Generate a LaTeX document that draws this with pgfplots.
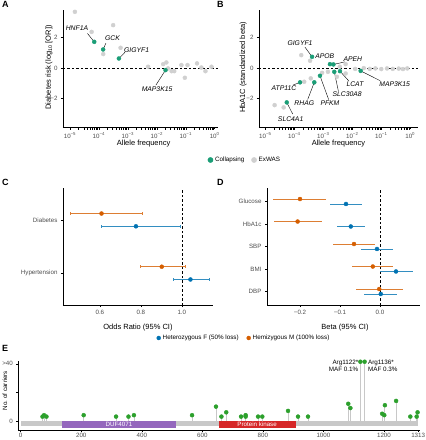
\documentclass[border=0pt]{standalone}
\usepackage{pgfplots}
\pgfplotsset{compat=1.18}
\usepackage{pgfplotstable}
\usepackage{fontspec}
\setmainfont{Liberation Sans}
\definecolor{colgreen}{HTML}{1B9E77}
\definecolor{colgray}{HTML}{D0D0D0}
\definecolor{colblue}{HTML}{0072B2}
\definecolor{colorange}{HTML}{D55E00}
\definecolor{ticktext}{HTML}{4D4D4D}
\definecolor{lolli}{HTML}{2CA02C}
\definecolor{stemc}{HTML}{C8C8C8}
\definecolor{dufc}{HTML}{9467BD}
\definecolor{pkc}{HTML}{D62728}
\newcommand{\fticks}{\fontsize{6.2}{7}\selectfont}
\newcommand{\ftitle}{\fontsize{7.5}{8}\selectfont}
\newcommand{\fgene}{\fontsize{6.8}{7}\selectfont\itshape}
\newcommand{\fleg}{\fontsize{6.3}{7}\selectfont}
\newcommand{\fpanel}{\fontsize{9}{9}\selectfont\bfseries}
\pgfplotsset{
  panel/.style={
    scale only axis, anchor=north west,
    axis lines*=left,
    axis line style={line width=0.6pt, black},
    tick align=outside,
    major tick length=2pt,
    every tick/.style={line width=0.5pt, black},
    tick label style={font=\fticks, text=ticktext},
    label style={font=\ftitle},
    clip=false,
  },
  sized/.style={only marks, scatter, mark=*, forget plot,
    visualization depends on={\thisrow{r} \as \ptr},
    scatter/@pre marker code/.append style={/tikz/mark size=\ptr pt},
    scatter/use mapped color={draw=#1, fill=#1}},
}
% ---------- data ----------
\pgfplotstableread{
f y r
1.48e-5 3.68 4.5
5.6e-5 2.37 3.0
3.1e-4 2.81 3.5
1.41e-4 0.92 2.2
5.6e-4 1.33 2.3
5.0e-3 0.09 1.5
0.0166 0.26 1.6
0.0214 0.37 1.8
0.0245 -0.02 1.6
0.0324 -0.20 1.5
0.040 -0.20 1.5
0.0708 0.20 1.6
0.093 -0.63 1.8
0.115 0.20 1.6
0.245 0.31 1.6
0.347 0.04 1.5
0.479 -0.20 1.5
0.776 0.09 1.5
}\Agray
\pgfplotstableread{
f y r
6.9e-5 1.72 2.9
1.4e-4 1.22 2.5
4.9e-4 0.63 2.0
0.020 -0.13 1.4
}\Agreen
\pgfplotstableread{
f y r
2.1e-5 -2.42 3.5
4.3e-5 -2.57 3.5
1.74e-4 0.85 2.5
3.5e-4 0.48 2.0
3.7e-4 -0.67 2.0
2.2e-4 -0.89 2.0
9.1e-4 -0.31 2.0
1.45e-3 -0.24 1.8
2.95e-3 -0.57 2.0
5.9e-3 -0.35 1.8
5.9e-3 0.26 1.6
3.7e-3 0.09 1.5
0.0126 -0.05 1.5
0.025 0.00 1.5
0.040 -0.05 1.5
0.063 -0.02 1.5
0.100 -0.06 1.5
0.158 -0.02 1.5
0.250 -0.05 1.5
0.400 -0.03 1.5
0.560 -0.06 1.5
0.790 -0.02 1.5
}\Bgray
\pgfplotstableread{
f y r
4.1e-4 0.74 2.2
1.7e-3 0.26 1.9
2.24e-3 0.24 1.6
2.4e-3 -0.24 1.7
3.77e-3 -0.20 1.5
0.0195 -0.18 1.4
7.7e-4 -0.50 1.9
4.9e-4 -0.93 2.2
1.58e-4 -0.93 2.2
5.5e-5 -2.24 3.4
}\Bgreen
\pgfplotstableread{
y x lo hi
2.12 0.608 0.456 0.809
1.12 0.902 0.796 1.016
}\Cor
\pgfplotstableread{
y x lo hi
1.88 0.776 0.608 0.992
0.88 1.042 0.959 1.134
}\Cbl
\pgfplotstableread{
y x lo hi
5.11 -0.200 -0.267 -0.135
4.11 -0.206 -0.265 -0.146
3.11 -0.065 -0.118 -0.0125
2.11 -0.018 -0.071 0.033
1.11 -0.002 -0.061 0.058
}\Dor
\pgfplotstableread{
y x lo hi
4.89 -0.085 -0.125 -0.046
3.89 -0.073 -0.108 -0.0375
2.89 -0.0075 -0.0475 0.033
1.89 0.040 0.000 0.082
0.89 0.002 -0.039 0.042
}\Dbl
\pgfplotstableread{
x y
72 3
77 4
85 3
208 4
315 3
356 3
374 4
566 4
645 10
663 3
679 6
728 3
743 4
743 3
784 3
798 3
883 7
916 3
949 3
1082 12
1089 9
1122 41.5
1136 41.5
1194 5
1201 4
1203 11
1240 14
1287 3
1308 3
1311 6
}\Evar
\begin{document}
\begin{tikzpicture}
\useasboundingbox (0pt,0pt) rectangle (426pt,-440pt);
\node[anchor=north west, inner sep=0pt, font=\fpanel] at (2pt,-1.5pt) {A};
\node[anchor=north west, inner sep=0pt, font=\fpanel] at (217pt,-1.5pt) {B};
\node[anchor=north west, inner sep=0pt, font=\fpanel] at (2pt,-179.5pt) {C};
\node[anchor=north west, inner sep=0pt, font=\fpanel] at (217pt,-179.5pt) {D};
\node[anchor=north west, inner sep=0pt, font=\fpanel] at (2pt,-345.5pt) {E};
% ---------- A ----------
\begin{axis}[panel, at={(63pt,-10pt)}, width=155pt, height=117pt,
  xmode=log, xmin=5.74e-6, xmax=1.30, ymin=-3.85, ymax=3.8,
  xtick={1e-5,1e-4,1e-3,1e-2,1e-1,1},
  xticklabels={10\textsuperscript{−5},10\textsuperscript{−4},10\textsuperscript{−3},10\textsuperscript{−2},10\textsuperscript{−1},10\textsuperscript{0}},
  ytick={-2,0,2}, yticklabels={−2,0,2},
  xlabel={Allele frequency}, ylabel={Diabetes risk (log\textsubscript{10} [OR])},
  xlabel style={at={(axis description cs:0.52,-0.145)}, anchor=center},
  ylabel style={at={(axis description cs:-0.09,0.51)}, anchor=center}]
\draw[dash pattern=on 2.5pt off 2pt, line width=0.5pt] (axis cs:5.74e-6,0) -- (axis cs:1.30,0);
\addplot[sized=colgray] table[x=f,y=y] {\Agray};
\draw[line width=0.4pt] (axis cs:4.0e-5,2.27) -- (axis cs:6.9e-5,1.72);
\draw[line width=0.4pt] (axis cs:1.74e-4,1.63) -- (axis cs:1.4e-4,1.22);
\draw[line width=0.4pt] (axis cs:7.9e-4,1.03) -- (axis cs:4.9e-4,0.63);
\draw[line width=0.4pt] (axis cs:9.3e-3,-1.11) -- (axis cs:0.020,-0.13);
\addplot[sized=colgreen] table[x=f,y=y] {\Agreen};
\node[font=\fgene] at (axis cs:1.74e-5,2.61) {HNF1A};
\node[font=\fgene] at (axis cs:2.95e-4,1.94) {GCK};
\node[font=\fgene] at (axis cs:2.0e-3,1.18) {GIGYF1};
\node[font=\fgene] at (axis cs:1.02e-2,-1.39) {MAP3K15};
\end{axis}
% ---------- B ----------
\begin{axis}[panel, at={(259pt,-10pt)}, width=159pt, height=117pt,
  xmode=log, xmin=6.07e-6, xmax=1.85, ymin=-3.85, ymax=3.8,
  xtick={1e-5,1e-4,1e-3,1e-2,1e-1,1},
  xticklabels={10\textsuperscript{−5},10\textsuperscript{−4},10\textsuperscript{−3},10\textsuperscript{−2},10\textsuperscript{−1},10\textsuperscript{0}},
  ytick={-2,0,2}, yticklabels={−2,0,2},
  xlabel={Allele frequency}, ylabel={HbA1C (standardized beta)},
  xlabel style={at={(axis description cs:0.50,-0.145)}, anchor=center},
  ylabel style={at={(axis description cs:-0.10,0.51)}, anchor=center},
  legend columns=2, legend cell align=left,
  legend style={at={(axis description cs:-0.088,-0.282)}, anchor=center, draw=none, fill=none, font=\fleg, inner sep=0pt,
    /tikz/every even column/.append style={column sep=5pt}}]
\addlegendimage{only marks, mark=*, mark size=2.6pt, colgreen}
\addlegendentry{Collapsing}
\addlegendimage{only marks, mark=*, mark size=2.6pt, colgray}
\addlegendentry{ExWAS}
\draw[dash pattern=on 2.5pt off 2pt, line width=0.5pt] (axis cs:6.07e-6,0) -- (axis cs:1.85,0);
\addplot[sized=colgray] table[x=f,y=y] {\Bgray};
\draw[line width=0.4pt] (axis cs:2.34e-4,1.37) -- (axis cs:4.1e-4,0.74);
\draw[line width=0.4pt] (axis cs:5.6e-3,0.41) -- (axis cs:2.24e-3,0.24);
\draw[line width=0.4pt] (axis cs:3.3e-3,-1.48) -- (axis cs:2.4e-3,-0.24);
\draw[line width=0.4pt] (axis cs:7.7e-3,-0.85) -- (axis cs:3.77e-3,-0.20);
\draw[line width=0.4pt] (axis cs:0.091,-0.82) -- (axis cs:0.0195,-0.18);
\draw[line width=0.4pt] (axis cs:1.53e-3,-2.05) -- (axis cs:7.7e-4,-0.50);
\draw[line width=0.4pt] (axis cs:2.9e-4,-2.05) -- (axis cs:4.9e-4,-0.93);
\draw[line width=0.4pt] (axis cs:9.0e-5,-1.11) -- (axis cs:1.58e-4,-0.93);
\draw[line width=0.4pt] (axis cs:8.8e-5,-3.0) -- (axis cs:5.5e-5,-2.24);
\addplot[sized=colgreen] table[x=f,y=y] {\Bgreen};
\node[font=\fgene] at (axis cs:1.58e-4,1.61) {GIGYF1};
\node[font=\fgene] at (axis cs:1.12e-3,0.78) {APOB};
\node[font=\fgene] at (axis cs:1.05e-2,0.57) {APEH};
\node[font=\fgene] at (axis cs:6.7e-3,-1.72) {SLC30A8};
\node[font=\fgene] at (axis cs:0.0124,-1.05) {LCAT};
\node[font=\fgene] at (axis cs:0.29,-1.07) {MAP3K15};
\node[font=\fgene] at (axis cs:1.70e-3,-2.31) {PFKM};
\node[font=\fgene] at (axis cs:2.21e-4,-2.31) {RHAG};
\node[font=\fgene] at (axis cs:4.4e-5,-1.29) {ATP11C};
\node[font=\fgene] at (axis cs:7.5e-5,-3.35) {SLC4A1};
\end{axis}
% ---------- C ----------
\begin{axis}[panel, at={(63pt,-188pt)}, width=150pt, height=117pt,
  xmin=0.42, xmax=1.152, ymin=0.4, ymax=2.6,
  xtick={0.6,0.8,1.0}, xticklabels={0.6,0.8,1.0},
  ytick={1,2}, yticklabels={Hypertension,Diabetes},
  xlabel={Odds Ratio (95\% CI)},
  xlabel style={at={(axis description cs:0.5,-0.197)}, anchor=center}]
\draw[dash pattern=on 2.5pt off 2pt, line width=0.5pt] (axis cs:1,0.4) -- (axis cs:1,2.6);
\addplot[only marks, mark=*, mark size=2pt, colorange,
  error bars/.cd, x dir=both, x explicit, error mark=|, error mark options={mark size=1.4pt, line width=0.6pt, colorange!80!white},
  error bar style={line width=0.8pt, colorange!80!white}]
  table[x=x, y=y, x error plus expr=\thisrow{hi}-\thisrow{x}, x error minus expr=\thisrow{x}-\thisrow{lo}] {\Cor};
\addplot[only marks, mark=*, mark size=2pt, colblue,
  error bars/.cd, x dir=both, x explicit, error mark=|, error mark options={mark size=1.4pt, line width=0.6pt, colblue!80!white},
  error bar style={line width=0.8pt, colblue!80!white}]
  table[x=x, y=y, x error plus expr=\thisrow{hi}-\thisrow{x}, x error minus expr=\thisrow{x}-\thisrow{lo}] {\Cbl};
\end{axis}
% ---------- D ----------
\begin{axis}[panel, at={(267pt,-188pt)}, width=153pt, height=117pt,
  xmin=-0.2825, xmax=0.1, ymin=0.4, ymax=5.6,
  xtick={-0.2,-0.1,0}, xticklabels={−0.2,−0.1,0.0},
  ytick={1,2,3,4,5}, yticklabels={DBP,BMI,SBP,HbA1c,Glucose},
  xlabel={Beta (95\% CI)},
  xlabel style={at={(axis description cs:0.51,-0.197)}, anchor=center},
  legend columns=2, legend cell align=left,
  legend style={at={(axis description cs:-0.150,-0.282)}, anchor=center, draw=none, fill=none, font=\fleg, inner sep=0pt,
    /tikz/every even column/.append style={column sep=6pt}}]
\addlegendimage{only marks, mark=*, mark size=2pt, colblue}
\addlegendentry{Heterozygous F (50\% loss)}
\addlegendimage{only marks, mark=*, mark size=2pt, colorange}
\addlegendentry{Hemizygous M (100\% loss)}
\draw[dash pattern=on 2.5pt off 2pt, line width=0.5pt] (axis cs:0,0.4) -- (axis cs:0,5.6);
\addplot[forget plot, only marks, mark=*, mark size=2pt, colorange,
  error bars/.cd, x dir=both, x explicit, error mark=none,
  error bar style={line width=0.8pt, colorange!80!white}]
  table[x=x, y=y, x error plus expr=\thisrow{hi}-\thisrow{x}, x error minus expr=\thisrow{x}-\thisrow{lo}] {\Dor};
\addplot[forget plot, only marks, mark=*, mark size=2pt, colblue,
  error bars/.cd, x dir=both, x explicit, error mark=none,
  error bar style={line width=0.8pt, colblue!80!white}]
  table[x=x, y=y, x error plus expr=\thisrow{hi}-\thisrow{x}, x error minus expr=\thisrow{x}-\thisrow{lo}] {\Dbl};
\end{axis}
% ---------- E ----------
\begin{axis}[panel, at={(18.3pt,-361pt)}, width=402pt, height=69pt,
  xmin=-8, xmax=1320, ymin=-6.4, ymax=42,
  xtick={0,200,400,600,800,1000,1200,1313}, xticklabels={0,200,400,600,800,1000,1200,1313},
  xticklabel style={yshift=2pt},
  ytick={0,20,40}, yticklabels={0,,>40},
  ylabel={No. of carriers},
  ylabel style={at={(axis description cs:-0.033,0.57)}, anchor=center, font=\fticks}]
\addplot[fill=stemc, draw=none, forget plot] coordinates {(0,-0.3) (1313,-0.3) (1313,-3.7) (0,-3.7)};
\addplot[fill=dufc, draw=none, forget plot] coordinates {(136,-0.3) (513,-0.3) (513,-5.3) (136,-5.3)};
\addplot[fill=pkc, draw=none, forget plot] coordinates {(654,-0.3) (908,-0.3) (908,-5.3) (654,-5.3)};
\node[text=white, font=\fticks] at (axis cs:324.5,-2.7) {DUF4071};
\node[text=white, font=\fticks] at (axis cs:781,-2.7) {Protein kinase};
\addplot[ycomb, stemc, line width=0.8pt, forget plot] table[x=x,y=y] {\Evar};
\addplot[only marks, mark=*, mark size=2pt, lolli, forget plot] table[x=x,y=y] {\Evar};
\node[anchor=east, align=right, font=\fleg, inner sep=0pt] at (axis cs:1116,38.4) {Arg1122*\\MAF 0.1\%};
\node[anchor=west, align=left, font=\fleg, inner sep=0pt] at (axis cs:1147,38.4) {Arg1136*\\MAF 0.3\%};
\end{axis}
\end{tikzpicture}
\end{document}
